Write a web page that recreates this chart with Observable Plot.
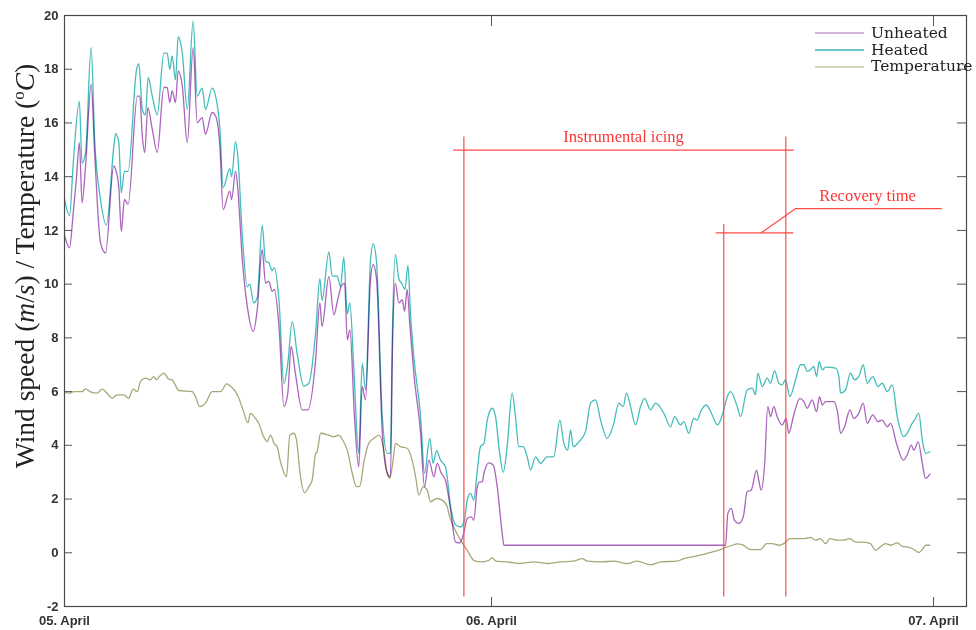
<!DOCTYPE html>
<html>
<head>
<meta charset="utf-8">
<script src="https://cdn.jsdelivr.net/npm/d3@7"></script>
<script src="https://cdn.jsdelivr.net/npm/@observablehq/plot@0.6"></script>
<style>
  body { margin: 0; background: #fff; }
  #chart { position: relative; width: 976px; height: 630px; }
  .legend { position: absolute; left: 815px; top: 25px; font-family: "DejaVu Serif", "Liberation Serif", serif;
            font-size: 15.5px; color: #222; white-space: nowrap; }
  .legend .row { display: flex; align-items: center; height: 16.7px; line-height: 16.7px; }
  .legend .sw { display: inline-block; width: 49px; height: 2px; margin-right: 7px; }
</style>
</head>
<body>
<div id="chart"></div>
<script>
// Hours since 05. April 00:00 and wind speed (m/s) / temperature (°C)
const heated = [[0.82,13.15],[1.09,12.56],[1.29,14.5],[1.62,16.8],[1.77,14.5],[1.96,14.9],[2.26,18.8],[2.46,15.3],[2.77,13.15],[3.09,12.2],[3.49,15.1],[3.59,15.6],[3.76,15.3],[3.90,13.4],[4.07,14.2],[4.27,14.2],[4.73,18.0],[4.85,18.2],[5.04,16.5],[5.21,16.3],[5.36,17.7],[5.58,17.0],[5.85,16.3],[6.21,18.6],[6.39,18.6],[6.53,18.0],[6.66,18.5],[6.84,17.6],[6.99,19.2],[7.21,18.6],[7.48,16.5],[7.80,19.8],[8.02,17.0],[8.29,17.3],[8.47,16.5],[8.83,17.3],[9.02,17.0],[9.25,15.8],[9.43,13.6],[9.79,14.3],[9.89,14.0],[10.10,15.3],[10.22,14.8],[10.47,11.8],[10.74,9.9],[10.87,10.0],[11.09,9.3],[11.28,9.5],[11.55,12.2],[11.73,10.85],[11.91,10.8],[12.09,10.5],[12.21,10.6],[12.46,9.4],[12.73,6.3],[12.94,7.06],[13.18,8.6],[13.45,7.4],[13.81,6.2],[14.08,6.3],[14.45,8.2],[14.68,10.2],[14.80,9.4],[15.17,11.2],[15.35,10.3],[15.62,10.3],[15.80,9.9],[15.98,11.0],[16.17,8.9],[16.31,9.3],[16.52,6.9],[16.79,3.7],[16.98,7.06],[17.16,6.06],[17.43,10.9],[17.58,11.5],[17.76,10.8],[18.07,5.07],[18.34,3.7],[18.51,3.7],[18.61,7.9],[18.78,11.1],[18.97,10.2],[19.15,10.0],[19.30,9.8],[19.46,10.7],[19.61,8.8],[19.78,7.3],[20.15,5.07],[20.36,2.96],[20.65,4.26],[20.83,3.33],[21.02,3.8],[21.23,3.45],[21.50,3.2],[21.81,1.59],[22.05,1.03],[22.32,0.96],[22.53,1.21],[22.68,1.96],[22.86,2.21],[23.04,1.96],[23.23,3.08],[23.40,3.95],[23.59,4.07],[23.77,4.94],[24.04,5.38],[24.22,5.07],[24.40,3.95],[24.64,3.0],[24.85,3.95],[25.12,5.94],[25.30,5.07],[25.48,3.95],[25.72,3.95],[25.94,3.57],[26.12,3.08],[26.39,3.57],[26.66,3.33],[27.02,3.57],[27.38,3.57],[27.71,4.94],[27.93,4.07],[28.14,3.82],[28.29,4.57],[28.44,3.95],[28.74,4.13],[29.10,4.5],[29.38,5.57],[29.65,5.69],[29.92,4.94],[30.28,4.26],[30.64,4.82],[30.91,5.57],[31.15,5.44],[31.33,5.94],[31.55,5.44],[31.82,4.76],[32.09,5.44],[32.31,5.75],[32.63,5.32],[32.91,5.57],[33.36,5.19],[33.72,4.69],[33.94,5.07],[34.26,4.76],[34.44,4.88],[34.71,4.45],[34.98,5.0],[35.17,4.94],[35.35,5.25],[35.67,5.5],[35.98,5.13],[36.26,4.76],[36.53,5.13],[36.65,5.44],[36.80,5.81],[36.98,6.0],[37.34,5.44],[37.52,5.07],[37.88,6.06],[38.16,6.13],[38.33,5.88],[38.46,6.69],[38.70,6.19],[38.97,6.5],[39.15,6.31],[39.37,6.78],[39.60,6.31],[39.78,6.25],[39.96,6.44],[40.20,5.81],[40.51,6.44],[40.78,7.0],[40.96,7.0],[41.14,6.75],[41.32,6.81],[41.50,6.94],[41.65,6.56],[41.79,7.12],[41.96,6.81],[42.14,6.91],[42.68,6.87],[42.86,6.56],[42.95,5.94],[43.22,6.06],[43.49,6.69],[43.71,6.44],[43.94,6.56],[44.18,7.0],[44.40,6.31],[44.70,6.56],[44.98,6.19],[45.21,6.31],[45.49,6.0],[45.76,6.25],[46.03,5.07],[46.39,4.32],[46.57,4.45],[46.84,4.82],[46.97,4.94],[47.20,5.19],[47.39,4.2],[47.57,3.7],[47.80,3.76]];

const unheated = [[0.82,11.8],[1.09,11.35],[1.29,12.66],[1.46,13.9],[1.62,15.27],[1.77,13.03],[1.96,14.4],[2.26,17.44],[2.46,14.77],[2.77,11.54],[3.04,11.16],[3.49,14.4],[3.59,14.27],[3.76,13.65],[3.90,11.97],[4.07,13.15],[4.27,12.97],[4.77,17.0],[4.90,17.0],[5.04,15.51],[5.17,14.9],[5.34,16.57],[5.58,15.77],[5.85,14.9],[6.21,17.32],[6.39,17.32],[6.53,16.76],[6.66,17.2],[6.84,16.76],[6.99,17.94],[7.21,17.38],[7.48,15.27],[7.80,18.8],[8.02,16.01],[8.29,16.2],[8.47,15.58],[8.83,16.39],[9.02,16.26],[9.25,15.14],[9.43,12.78],[9.79,13.46],[9.89,13.15],[10.10,14.21],[10.22,13.59],[10.47,10.91],[10.74,9.17],[11.07,8.24],[11.28,9.05],[11.55,11.29],[11.73,10.04],[11.91,10.1],[12.09,9.73],[12.21,9.8],[12.46,8.43],[12.73,5.44],[12.94,5.94],[13.12,7.68],[13.35,6.69],[13.72,5.32],[14.03,5.32],[14.45,7.18],[14.68,9.3],[14.80,8.43],[15.17,10.29],[15.44,8.86],[15.65,9.42],[15.84,9.92],[16.02,10.04],[16.17,7.93],[16.31,8.3],[16.56,5.07],[16.79,3.2],[16.98,6.19],[17.16,5.69],[17.43,10.17],[17.58,10.73],[17.76,10.17],[18.07,4.45],[18.34,2.96],[18.51,2.83],[18.64,8.18],[18.78,10.04],[18.97,9.3],[19.15,9.42],[19.28,8.99],[19.42,9.8],[19.57,8.43],[19.78,6.69],[20.15,4.45],[20.36,2.46],[20.60,3.45],[20.87,2.83],[21.05,3.33],[21.27,2.96],[21.50,2.7],[21.78,1.59],[22.05,0.4],[22.28,0.37],[22.49,0.72],[22.68,1.28],[22.90,1.34],[23.04,1.21],[23.23,2.46],[23.36,2.64],[23.50,2.64],[23.59,2.96],[23.86,3.35],[24.09,3.27],[24.31,2.46],[24.58,0.72],[24.67,0.28],[36.71,0.28],[36.83,1.46],[37.02,1.65],[37.19,1.21],[37.43,1.09],[37.67,1.34],[37.88,2.27],[38.10,2.33],[38.39,3.08],[38.51,2.7],[38.64,2.33],[38.82,3.2],[39.00,5.44],[39.15,5.07],[39.33,5.44],[39.51,5.07],[39.78,4.76],[40.00,5.0],[40.14,4.45],[40.41,5.13],[40.74,5.75],[40.96,5.63],[41.14,5.38],[41.41,5.69],[41.65,5.25],[41.81,5.81],[41.96,5.5],[42.14,5.63],[42.59,5.63],[42.80,5.19],[42.95,4.45],[43.17,4.69],[43.46,5.32],[43.67,5.0],[43.94,5.19],[44.18,5.57],[44.40,4.82],[44.70,5.13],[44.98,4.88],[45.21,4.94],[45.49,4.69],[45.67,4.82],[45.99,4.07],[46.35,3.45],[46.57,3.64],[46.79,4.01],[46.93,3.82],[47.17,4.13],[47.39,3.33],[47.57,2.77],[47.80,2.93]];

const temperature = [[0.82,6.0],[1.05,5.94],[1.32,6.0],[1.77,6.0],[1.96,6.1],[2.19,6.0],[2.59,5.94],[2.86,6.09],[3.13,5.94],[3.40,5.75],[3.67,5.88],[4.03,5.88],[4.30,5.75],[4.54,6.09],[4.77,6.0],[4.94,6.37],[5.21,6.5],[5.48,6.44],[5.66,6.56],[5.81,6.44],[5.94,6.54],[6.21,6.69],[6.48,6.46],[6.66,6.44],[7.02,6.04],[7.75,6.0],[7.93,5.81],[8.16,5.44],[8.47,5.57],[8.83,6.0],[9.29,6.0],[9.62,6.29],[9.83,6.21],[10.20,5.88],[10.51,5.32],[10.77,4.84],[10.91,5.19],[11.19,5.0],[11.36,4.82],[11.63,4.32],[11.82,4.13],[12.00,4.38],[12.21,4.05],[12.36,3.95],[12.54,3.39],[12.87,2.83],[13.05,4.38],[13.27,4.45],[13.41,4.2],[13.63,2.83],[13.85,2.23],[14.08,2.46],[14.26,2.7],[14.45,3.7],[14.53,3.76],[14.72,4.45],[15.17,4.38],[15.44,4.32],[15.71,4.38],[15.90,4.22],[16.17,3.82],[16.44,2.96],[16.67,2.46],[16.85,2.48],[17.06,3.33],[17.33,4.07],[17.61,4.26],[17.89,4.38],[18.12,3.95],[18.34,2.96],[18.47,2.77],[18.66,3.45],[18.78,4.07],[19.06,3.95],[19.42,3.89],[19.64,3.57],[19.88,2.83],[20.05,2.15],[20.29,2.46],[20.51,2.33],[20.69,1.9],[21.02,2.02],[21.32,1.96],[21.60,1.71],[21.68,1.46],[21.95,0.96],[22.32,0.47],[22.68,0.09],[23.04,-0.28],[23.40,-0.34],[23.86,-0.28],[24.04,-0.19],[24.22,-0.31],[24.85,-0.34],[25.57,-0.4],[26.30,-0.34],[27.02,-0.4],[27.75,-0.34],[28.47,-0.31],[28.92,-0.22],[29.20,-0.31],[29.92,-0.34],[30.64,-0.31],[31.37,-0.4],[31.91,-0.31],[32.63,-0.45],[33.18,-0.34],[34.08,-0.31],[34.44,-0.22],[34.81,-0.16],[35.26,-0.1],[35.71,-0.02],[36.43,0.12],[36.71,0.2],[37.07,0.28],[37.34,0.33],[37.61,0.3],[38.06,0.12],[38.61,0.12],[38.93,0.34],[39.24,0.34],[39.60,0.28],[39.87,0.34],[40.20,0.53],[40.60,0.53],[40.96,0.53],[41.32,0.57],[41.59,0.47],[41.86,0.53],[42.14,0.34],[42.37,0.53],[42.77,0.47],[43.13,0.47],[43.46,0.53],[43.76,0.4],[44.22,0.4],[44.58,0.34],[44.85,0.09],[45.12,0.22],[45.39,0.34],[45.70,0.28],[46.03,0.37],[46.30,0.24],[46.57,0.22],[46.84,0.16],[47.20,0.01],[47.39,0.12],[47.57,0.28],[47.80,0.28]];

// Time axis: it starts at 00:49 on 05. April and ends late on 06. April
const axisStart = 0.815;
const axisEnd = 49.79;
const dayTicks = [axisStart, 24, 48];
const dayLabels = ["05. April", "06. April", "07. April"];
const valueTicks = [-2, 0, 2, 4, 6, 8, 10, 12, 14, 16, 18, 20];

// Annotation of the icing period and the recovery time
const markerRules = [
  {x: 22.50, y1: -1.65, y2: 15.48},
  {x: 39.98, y1: -1.65, y2: 15.48},
  {x: 36.61, y1: -1.65, y2: 12.22}
];
const spanRules = [
  {y: 14.99, x1: 21.95, x2: 40.45},
  {y: 11.91, x1: 36.20, x2: 40.41}
];
const leader = [[38.64, 11.91], [40.50, 12.81], [48.42, 12.81]];
const notes = [
  {x: 31.17, y: 15.29, text: "Instrumental icing"},
  {x: 44.42, y: 13.08, text: "Recovery time"}
];

const series = ["Unheated", "Heated", "Temperature"];
const seriesColors = ["#ab64bb", "#45bcbc", "#a9a77a"];
const legendColors = ["#cfb3de", "#6cc6c6", "#d3d6bd"];
const red = "#ff4a4a";

const plot = Plot.plot({
  width: 976,
  height: 630,
  marginLeft: 64,
  marginRight: 10,
  marginTop: 15,
  marginBottom: 24,
  style: {fontFamily: "'Liberation Sans', Arial, sans-serif", fontSize: "13px", fontWeight: "bold", color: "#333", background: "#fff"},
  x: {domain: [axisStart, axisEnd]},
  y: {domain: [-2, 20]},
  marks: [
    Plot.line(temperature, {x: d => d[0], y: d => d[1], curve: "monotone-x", stroke: seriesColors[2], strokeWidth: 1.3, mixBlendMode: "multiply"}),
    Plot.line(heated, {x: d => d[0], y: d => d[1], curve: "monotone-x", stroke: seriesColors[1], strokeWidth: 1.3, mixBlendMode: "multiply"}),
    Plot.line(unheated, {x: d => d[0], y: d => d[1], curve: "monotone-x", stroke: seriesColors[0], strokeWidth: 1.3, mixBlendMode: "multiply"}),
    Plot.ruleX(markerRules, {x: "x", y1: "y1", y2: "y2", stroke: red, strokeWidth: 1.2}),
    Plot.ruleY(spanRules, {y: "y", x1: "x1", x2: "x2", stroke: red, strokeWidth: 1.2}),
    Plot.line(leader, {x: d => d[0], y: d => d[1], stroke: red, strokeWidth: 1.2}),
    Plot.text(notes, {x: "x", y: "y", text: "text", lineAnchor: "bottom", fill: "#ff3434",
      fontFamily: "'Liberation Serif', 'Times New Roman', serif", fontSize: 16.5, fontWeight: "normal"}),
    Plot.axisY({anchor: "left", ticks: valueTicks, tickSize: -8, tickPadding: 14, label: null, stroke: "#555",
      tickFormat: d => `${d}`}),
    Plot.axisY({anchor: "right", ticks: valueTicks, tickSize: -10, tickFormat: () => "", label: null, stroke: "#555"}),
    Plot.axisX({anchor: "bottom", ticks: dayTicks, tickSize: -9, tickPadding: 18, label: null, stroke: "#555",
      tickFormat: d => dayLabels[dayTicks.indexOf(d)]}),
    Plot.axisX({anchor: "top", ticks: dayTicks, tickSize: -10, tickFormat: () => "", label: null, stroke: "#555"}),
    Plot.frame({stroke: "#4a4a4a", strokeWidth: 1.2})
  ]
});

// Y axis title with math-style units
const svg = d3.select(plot);
const title = svg.append("text")
  .attr("transform", "translate(34,266) rotate(-90)")
  .attr("text-anchor", "middle")
  .attr("font-family", "'Liberation Serif', 'Times New Roman', serif")
  .attr("font-size", 27.5)
  .attr("font-weight", "normal")
  .attr("fill", "#222");
title.append("tspan").text("Wind speed (");
title.append("tspan").attr("font-style", "italic").text("m");
title.append("tspan").text("/");
title.append("tspan").attr("font-style", "italic").text("s");
title.append("tspan").text(") / Temperature (");
title.append("tspan").attr("font-size", 17).attr("dy", -10).text("o");
title.append("tspan").attr("font-style", "italic").attr("dy", 10).text("C");
title.append("tspan").text(")");

const chart = document.getElementById("chart");
chart.appendChild(plot);

// Legend in the upper right corner
const legend = document.createElement("div");
legend.className = "legend";
series.forEach((name, i) => {
  const row = document.createElement("div");
  row.className = "row";
  const sw = document.createElement("span");
  sw.className = "sw";
  sw.style.background = legendColors[i];
  row.appendChild(sw);
  row.appendChild(document.createTextNode(name));
  legend.appendChild(row);
});
chart.appendChild(legend);
</script>
</body>
</html>
